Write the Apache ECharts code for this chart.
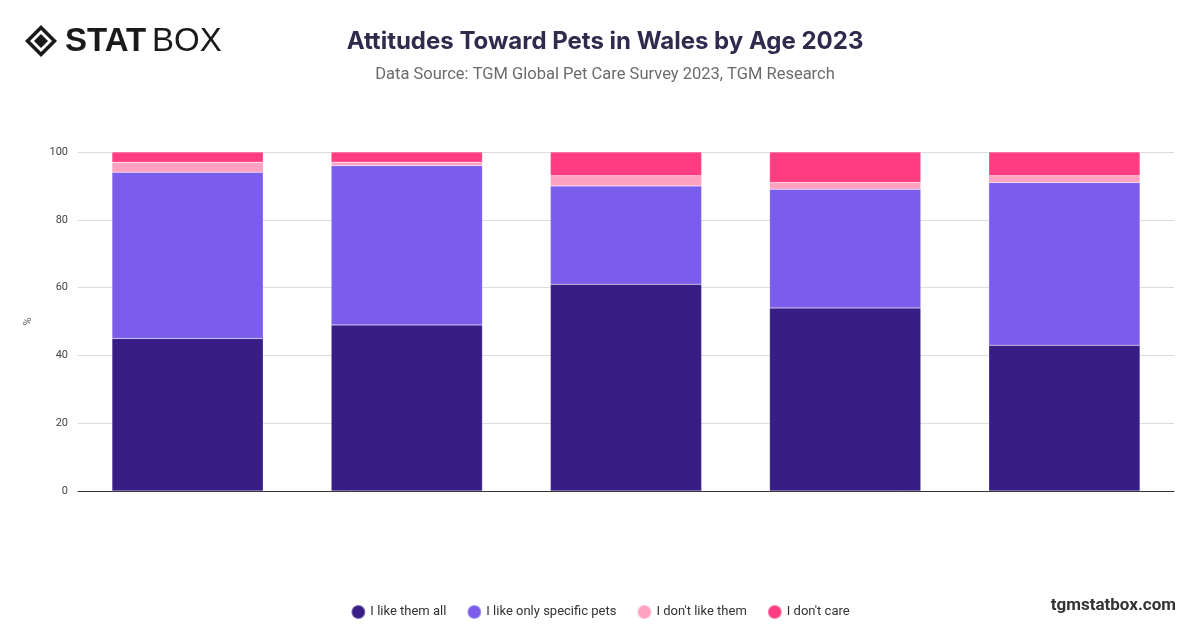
<!DOCTYPE html>
<html><head><meta charset="utf-8">
<script src="https://cdn.jsdelivr.net/npm/echarts@6/dist/echarts.min.js"></script>
<style>html,body{margin:0;padding:0;background:#fff}#c{width:1200px;height:628px}</style>
</head><body><div id="c"></div>
<script>
const categories = ['18-24', '25-34', '35-44', '45-54', '55-64'];
const likeAll = [45, 49, 61, 54, 43];
const likeSpecific = [49, 47, 29, 35, 48];
const dontLike = [3, 1, 3, 2, 2];
const dontCare = [3, 3, 7, 9, 7];
const seriesNames = ['I like them all', 'I like only specific pets', "I don't like them", "I don't care"];
const seriesColors = ['#381d86', '#7b5dec', '#ffa2c2', '#ff3d80'];
const yTicks = [0, 20, 40, 60, 80, 100];

const chart = echarts.init(document.getElementById('c'));
const dataSets = [likeAll, likeSpecific, dontLike, dontCare];
chart.setOption({
  animation: false,
  title: [
    {text: 'Attitudes Toward Pets in Wales by Age 2023', left: 600, textAlign: 'center', top: 25,
     textStyle: {fontFamily: 'Inter', fontWeight: 'bold', fontSize: 24, color: '#2e2b4d'}},
    {text: 'Data Source: TGM Global Pet Care Survey 2023, TGM Research', left: 600, textAlign: 'center', top: 61,
     textStyle: {fontFamily: 'Roboto', fontWeight: 'normal', fontSize: 16.5, color: '#6b6b6b'}}
  ],
  grid: {left: 78, right: 26, top: 152, bottom: 137, containLabel: false},
  xAxis: {type: 'category', data: categories,
    axisLine: {lineStyle: {color: '#333', width: 1}}, axisTick: {show: false}, axisLabel: {show: false}},
  yAxis: {type: 'value', min: 0, max: 100, interval: 20, name: '%', nameLocation: 'middle', nameGap: 44,
    nameTextStyle: {color: '#666', fontSize: 11, fontFamily: 'Roboto'},
    axisLabel: {color: '#444', fontSize: 11, fontFamily: 'Roboto', margin: 10,
      formatter: v => yTicks.includes(v) ? String(v) : ''},
    splitLine: {lineStyle: {color: '#dddddd'}}},
  legend: {bottom: 3, left: 'center', icon: 'circle', itemWidth: 14, itemHeight: 14, itemGap: 20,
    textStyle: {color: '#333', fontSize: 13, fontFamily: 'Roboto'}, data: seriesNames},
  series: dataSets.map((d, i) => ({
    name: seriesNames[i], type: 'bar', stack: 'all', data: d, barWidth: '69%',
    itemStyle: {color: seriesColors[i], borderColor: 'rgba(255,255,255,0.35)', borderWidth: 0.5}
  })),
  graphic: [
    {type: 'text', right: 24, top: 597, style: {text: 'tgmstatbox.com', font: 'bold 17px Roboto', fill: '#333'}},
    {type: 'group', left: 25, top: 25, children: [
      {type: 'polygon', shape: {points: [[16, 0], [32, 16], [16, 32], [0, 16]]}, style: {fill: '#1a1a1a'}},
      {type: 'polygon', shape: {points: [[16, 5], [27, 16], [16, 27], [5, 16]]}, style: {fill: '#fff'}},
      {type: 'polygon', shape: {points: [[16, 9], [23, 16], [16, 23], [9, 16]]}, style: {fill: '#1a1a1a'}},
      {type: 'text', x: 40, y: 0, style: {text: 'STAT', font: 'bold 33px "Liberation Sans"', fill: '#1a1a1a'}},
      {type: 'text', x: 127, y: 0, style: {text: 'BOX', font: 'normal 33px "Liberation Sans"', fill: '#1a1a1a'}}
    ]}
  ]
});
</script></body></html>
